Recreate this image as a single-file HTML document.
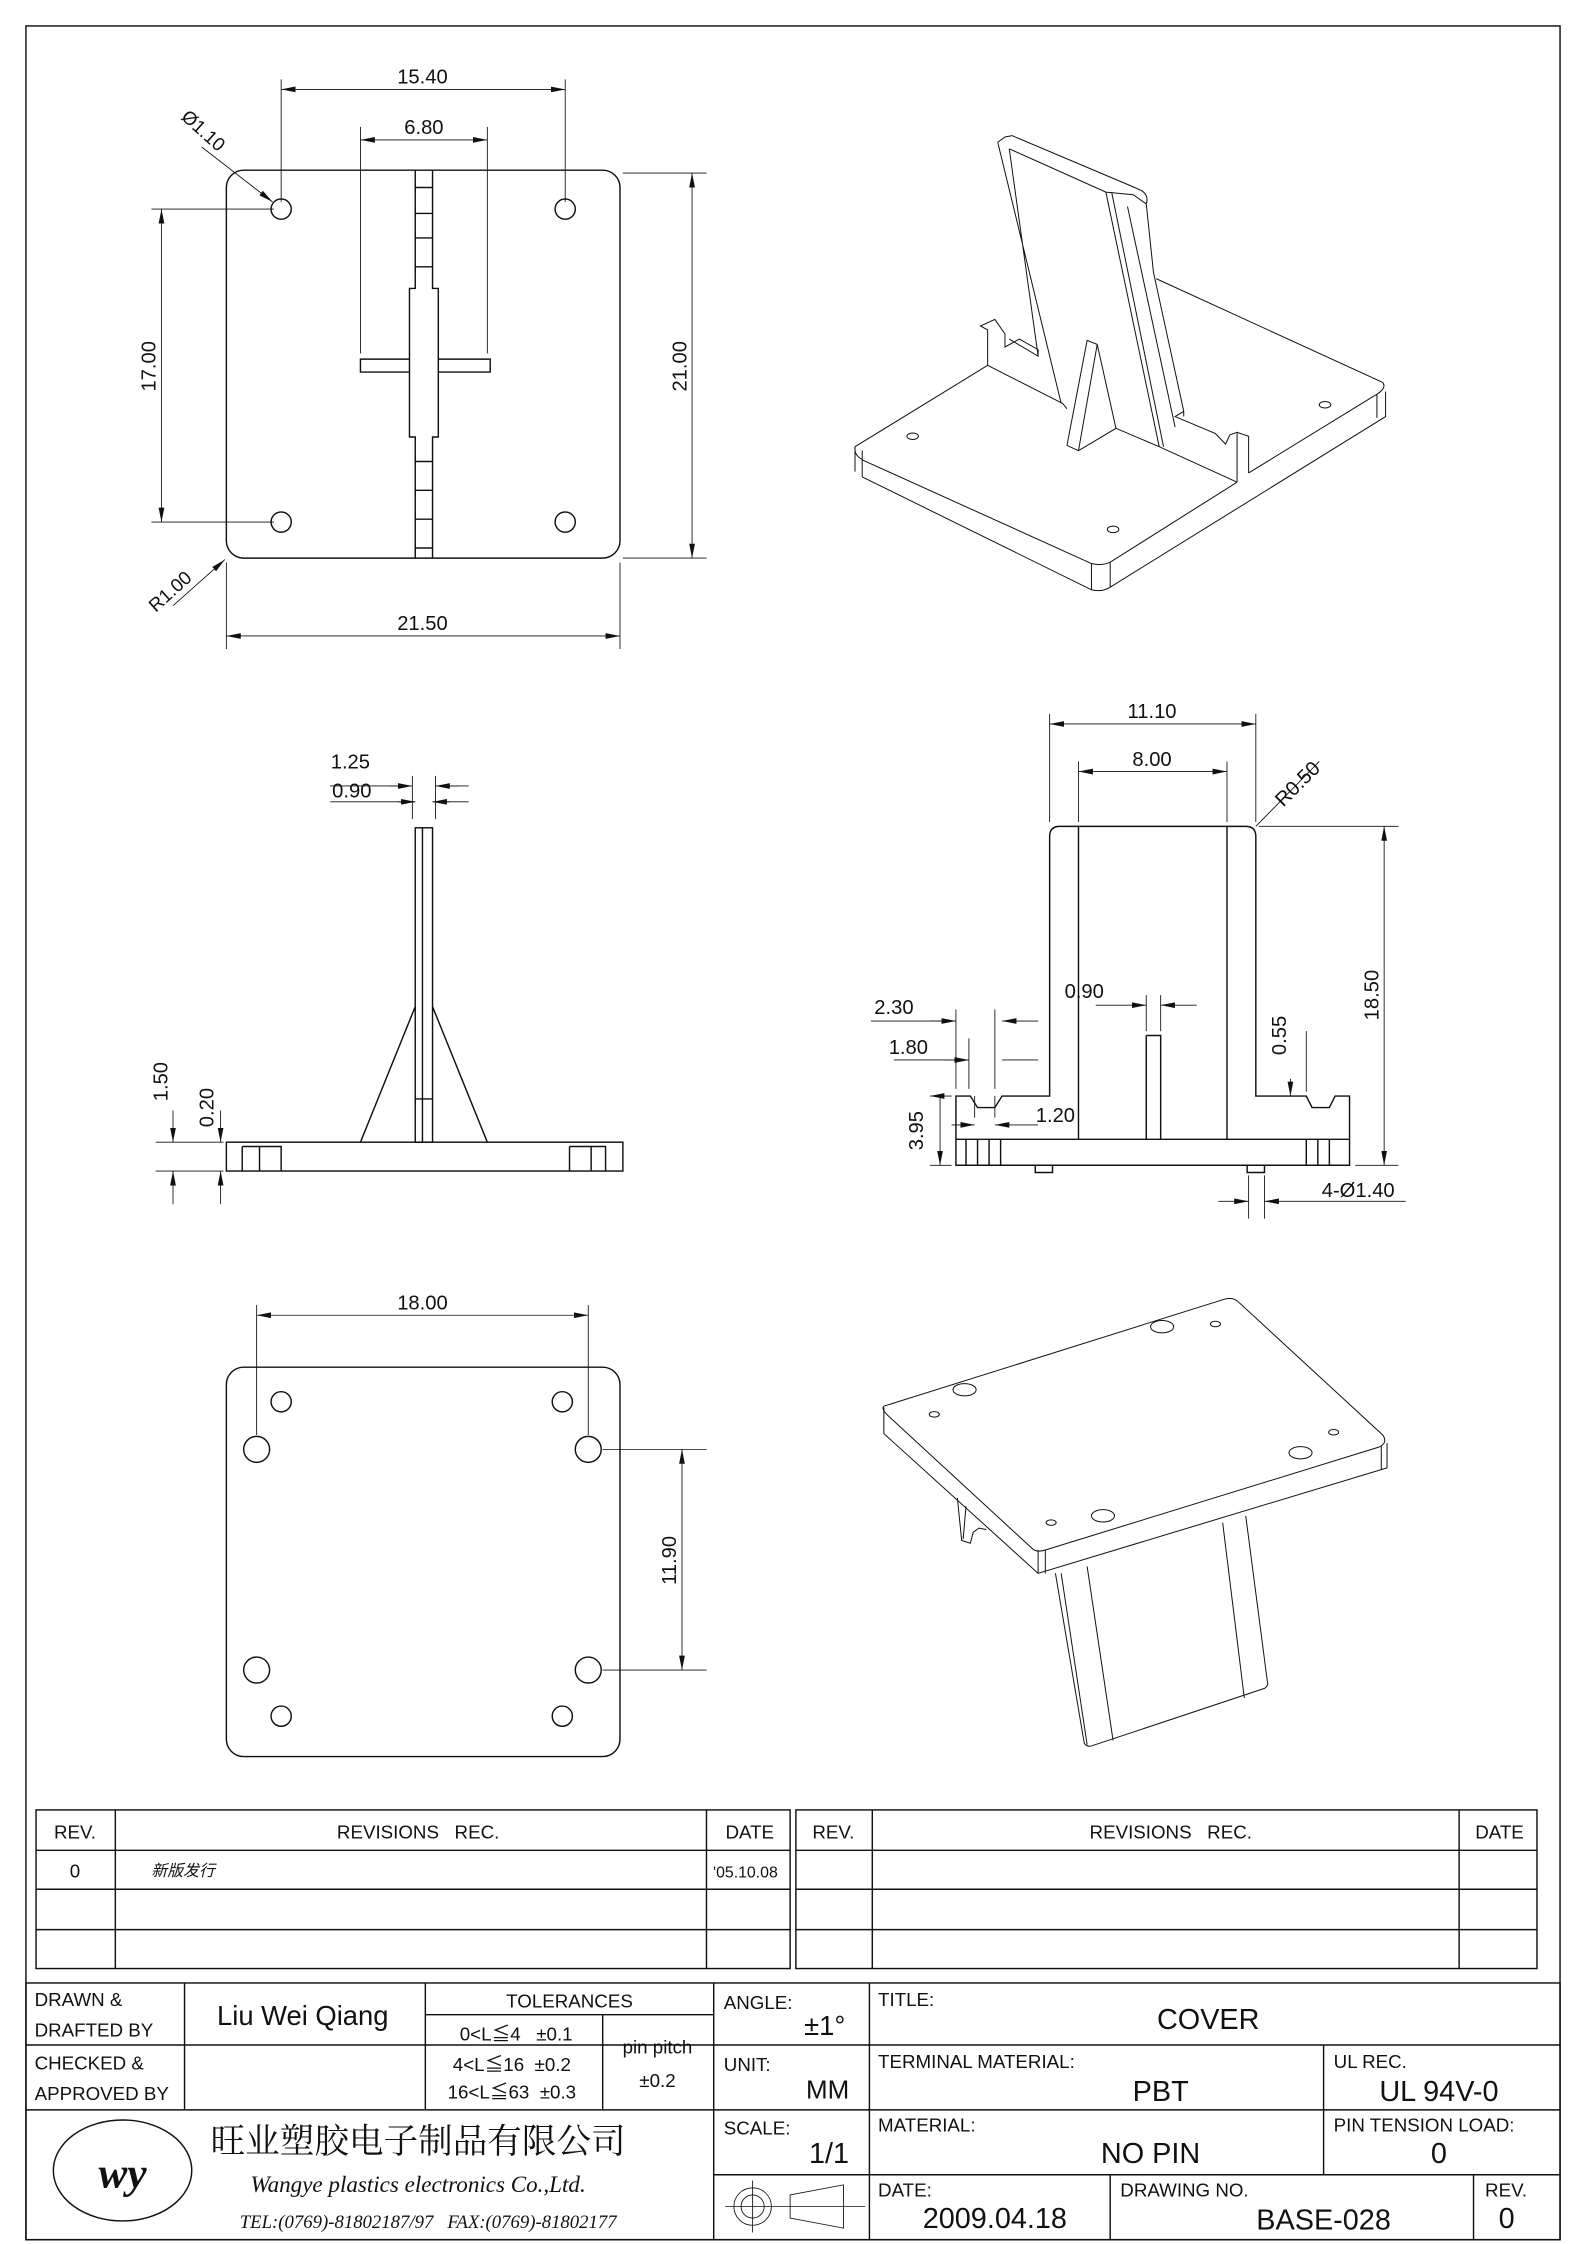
<!DOCTYPE html>
<html><head><meta charset="utf-8"><style>
html,body{margin:0;padding:0;background:#fff}
svg{display:block}
text{font-family:"Liberation Sans Narrow","Liberation Sans","Noto Sans CJK SC",sans-serif;fill:#111}
.l{stroke:#111;stroke-width:1;fill:none}
.t{stroke:#111;stroke-width:0.6;fill:none}
.n path,.n ellipse{vector-effect:non-scaling-stroke}
</style></head><body>
<svg width="1586" height="2244" viewBox="0 0 1100 1556" preserveAspectRatio="none" xmlns="http://www.w3.org/2000/svg">
<defs>
<marker id="ar" viewBox="0 0 10 4" refX="10" refY="2" markerWidth="10" markerHeight="4" markerUnits="userSpaceOnUse" orient="auto-start-reverse"><path d="M0,0L10,2L0,4z" fill="#111"/></marker>
</defs>
<rect x="18" y="18" width="1064" height="1535" class="l"/>

<!-- TOP VIEW -->
<rect x="157" y="118" width="273" height="269" rx="12" class="l"/>
<g class="l">
<circle cx="195" cy="145" r="7"/><circle cx="392" cy="145" r="7"/>
<circle cx="195" cy="362" r="7"/><circle cx="392" cy="362" r="7"/>
<path d="M288,118V200H284V303H288V387M300,118V200H304V303H300V387"/>
<path d="M288,130H300M288,148H300M288,165H300M288,185H300M288,320H300M288,340H300M288,360H300M288,380H300"/>
<path d="M284,249H250V258H284M304,249H340V258H304"/>
</g>
<g class="t">
<path d="M195,140V55M392,140V55M250,245V88M338,245V88M190,145H105M190,362H105M432,120H490M432,387H490M157,390V450M430,390V450"/>
<path d="M195,62H392" marker-start="url(#ar)" marker-end="url(#ar)"/>
<path d="M250,97H338" marker-start="url(#ar)" marker-end="url(#ar)"/>
<path d="M112,145V362" marker-start="url(#ar)" marker-end="url(#ar)"/>
<path d="M480,120V387" marker-start="url(#ar)" marker-end="url(#ar)"/>
<path d="M157,441H430" marker-start="url(#ar)" marker-end="url(#ar)"/>
<path d="M140,102L189,140" marker-end="url(#ar)"/>
<path d="M120,420L156,388" marker-end="url(#ar)"/>
</g>
<text x="293" y="58" font-size="14" text-anchor="middle">15.40</text>
<text x="294" y="93" font-size="14" text-anchor="middle">6.80</text>
<text transform="translate(108,254) rotate(-90)" font-size="14" text-anchor="middle">17.00</text>
<text transform="translate(476,254) rotate(-90)" font-size="14" text-anchor="middle">21.00</text>
<text x="293" y="437" font-size="14" text-anchor="middle">21.50</text>
<text transform="translate(125,82) rotate(42)" font-size="13">Ø1.10</text>
<text transform="translate(108,425) rotate(-42)" font-size="13">R1.00</text>

<!-- ISO TOP -->
<g class="l n" transform="translate(0,95) scale(1,0.91) translate(0,-97)">
<path d="M593,333L685,271M737,300L685,271M593,333Q592,340 600,344L757,422Q764,424 770,421L858,360M866,353L955,293Q962,288 959,284L802,205M593,333V352M598,336V356M598,356L757,442Q764,444 770,440L961,310V291M757,422V442M770,421V440M955,293V311"/>
<path d="M685,271V244L680,241L690,236L697,247V257L707,251L720,259V264L700,251"/>
<path d="M692,101L736,300M700,106L720,264M692,101L697,97L702,96L786,135L792,138Q797,142 795,148L800,200L821,306M700,106L767,139L786,141L795,148M767,139L804,333M771,139L807,333M782,150L815,318"/>
<path d="M821,306L815,310L843,323L850,331L853,324L858,322L858,360M821,306V310M858,322L866,325V353"/>
<path d="M774,319L804,333L858,360M737,300L740,304"/>
<path d="M740,332L754,252L761,255L774,319L748,336L740,332M748,336L761,255"/>
<ellipse cx="633" cy="325" rx="4" ry="2.5"/><ellipse cx="772" cy="396" rx="4" ry="2.5"/><ellipse cx="919" cy="301" rx="4" ry="2.5"/>
</g>

<!-- SIDE VIEW -->
<g class="l">
<rect x="157" y="792" width="275" height="20"/>
<rect x="288" y="574" width="12" height="218"/>
<path d="M293,574V792M288,762H300"/>
<path d="M250,792L288,698M338,792L300,698"/>
<path d="M168,795H195V812M168,795V812M180,795V812M395,795H420V812M395,795V812M410,795V812"/>
</g>
<g class="t">
<path d="M286,538V568M302,538V568M229,545H286M302,545H325" />
<path d="M229,556H288M300,556H325"/>
<path d="M270,545H286" marker-end="url(#ar)"/><path d="M318,545H302" marker-end="url(#ar)"/>
<path d="M276,556H288" marker-end="url(#ar)"/><path d="M312,556H300" marker-end="url(#ar)"/>
<path d="M108,792H155M108,812H155M120,770V792" marker-end="url(#ar)"/>
<path d="M120,835V812" marker-end="url(#ar)"/>
<path d="M153,770V792" marker-end="url(#ar)"/><path d="M153,835V812" marker-end="url(#ar)"/>
</g>
<text x="243" y="533" font-size="14" text-anchor="middle">1.25</text>
<text x="244" y="553" font-size="14" text-anchor="middle">0.90</text>
<text transform="translate(116,750) rotate(-90)" font-size="14" text-anchor="middle">1.50</text>
<text transform="translate(148,768) rotate(-90)" font-size="14" text-anchor="middle">0.20</text>

<!-- FRONT VIEW -->
<g class="l">
<path d="M663,808V760H673L678,768H690L695,760H728V580Q728,573 735,573H864Q871,573 871,580V760H906L910,768H922L926,760H936V808Z"/>
<path d="M663,790H936M748,573V790M851,573V790M795,718H805V790M795,718V790"/>
<path d="M670,790V808M678,790V808M686,790V808M694,790V808M906,790V808M914,790V808M922,790V808"/>
<path d="M718,808V813H730V808M865,808V813H877V808"/>
</g>
<g class="t">
<path d="M728,570V495M871,570V495M748,570V528M851,570V528"/>
<path d="M728,502H871" marker-start="url(#ar)" marker-end="url(#ar)"/>
<path d="M748,535H851" marker-start="url(#ar)" marker-end="url(#ar)"/>
<path d="M873,573H970M940,808H970"/>
<path d="M960,573V808" marker-start="url(#ar)" marker-end="url(#ar)"/>
<path d="M871,573L915,528"/>
<path d="M663,755V700M672,755V720M604,708H663" /><path d="M645,708H663" marker-end="url(#ar)"/>
<path d="M620,735H672" /><path d="M655,735H672" marker-end="url(#ar)"/>
<path d="M690,700V755M720,708H695" marker-end="url(#ar)"/><path d="M720,735H695"/>
<path d="M795,715V690M805,715V690M760,697H795" marker-end="url(#ar)"/><path d="M830,697H805" marker-end="url(#ar)"/>
<path d="M645,760H660M645,808H660M652,760V808" marker-start="url(#ar)" marker-end="url(#ar)"/>
<path d="M676,775V760M690,775V760M660,780H676" marker-end="url(#ar)"/><path d="M720,780H690" marker-end="url(#ar)"/>
<path d="M906,757V715M895,760H906"/><path d="M895,748V760" marker-end="url(#ar)"/>
<path d="M866,815V845M877,815V845M845,833H866" marker-end="url(#ar)"/><path d="M910,833H877" marker-end="url(#ar)"/><path d="M910,833H975"/>
</g>
<text x="799" y="498" font-size="14" text-anchor="middle">11.10</text>
<text x="799" y="531" font-size="14" text-anchor="middle">8.00</text>
<text transform="translate(890,560) rotate(-45)" font-size="14">R0.50</text>
<text transform="translate(956,690) rotate(-90)" font-size="14" text-anchor="middle">18.50</text>
<text x="620" y="703" font-size="14" text-anchor="middle">2.30</text>
<text x="630" y="731" font-size="14" text-anchor="middle">1.80</text>
<text x="752" y="692" font-size="14" text-anchor="middle">0.90</text>
<text transform="translate(892,718) rotate(-90)" font-size="14" text-anchor="middle">0.55</text>
<text transform="translate(640,784) rotate(-90)" font-size="14" text-anchor="middle">3.95</text>
<text x="732" y="778" font-size="14" text-anchor="middle">1.20</text>
<text x="942" y="830" font-size="14" text-anchor="middle">4-Ø1.40</text>

<!-- BOTTOM VIEW -->
<rect x="157" y="948" width="273" height="270" rx="12" class="l"/>
<g class="l">
<circle cx="195" cy="972" r="7"/><circle cx="390" cy="972" r="7"/><circle cx="195" cy="1190" r="7"/><circle cx="390" cy="1190" r="7"/>
<circle cx="178" cy="1005" r="9"/><circle cx="408" cy="1005" r="9"/><circle cx="178" cy="1158" r="9"/><circle cx="408" cy="1158" r="9"/>
</g>
<g class="t">
<path d="M178,995V905M408,995V905M418,1005H490M418,1158H490"/>
<path d="M178,912H408" marker-start="url(#ar)" marker-end="url(#ar)"/>
<path d="M473,1005V1158" marker-start="url(#ar)" marker-end="url(#ar)"/>
</g>
<text x="293" y="908" font-size="14" text-anchor="middle">18.00</text>
<text transform="translate(469,1082) rotate(-90)" font-size="14" text-anchor="middle">11.90</text>

<!-- ISO BOTTOM -->
<g class="l n" transform="translate(0,900) scale(1,0.95) translate(0,-900)">
<path d="M613,979L849,901Q855,899 859,903L959,1000Q963,1006 956,1009L725,1084Q719,1086 716,1083L616,986Q611,981 613,979Z"/>
<path d="M613,980V999L720,1101L962,1024V1006M720,1084V1101M725,1084V1101M958,1008V1025"/>
<path d="M664,1046L667,1077L673,1079L675,1071L679,1068L684,1069M670,1052L668,1076"/>
<path d="M732,1101L752,1225Q754,1228 757,1227L877,1185Q880,1183 879,1180L864,1059M754,1096L772,1223M736,1101L754,1226M848,1064L863,1192"/>
<ellipse cx="669" cy="967" rx="8" ry="4.5"/><ellipse cx="806" cy="921" rx="8" ry="4.5"/><ellipse cx="902" cy="1013" rx="8" ry="4.5"/><ellipse cx="765" cy="1059" rx="8" ry="4.5"/>
<ellipse cx="648" cy="985" rx="3.5" ry="2"/><ellipse cx="843" cy="919" rx="3.5" ry="2"/><ellipse cx="925" cy="998" rx="3.5" ry="2"/><ellipse cx="729" cy="1064" rx="3.5" ry="2"/>
</g>

<!-- REVISION TABLE -->
<g class="l">
<rect x="25" y="1255" width="523" height="110"/><rect x="552" y="1255" width="514" height="110"/>
<path d="M25,1283H548M25,1310H548M25,1338H548M80,1255V1365M490,1255V1365"/>
<path d="M552,1283H1066M552,1310H1066M552,1338H1066M605,1255V1365M1012,1255V1365"/>
</g>
<g font-size="13" text-anchor="middle">
<text x="52" y="1275">REV.</text><text x="290" y="1275">REVISIONS&#160;&#160;&#160;REC.</text><text x="520" y="1275">DATE</text>
<text x="578" y="1275">REV.</text><text x="812" y="1275">REVISIONS&#160;&#160;&#160;REC.</text><text x="1040" y="1275">DATE</text>
<text x="52" y="1302">0</text><text x="517" y="1302" font-size="11">'05.10.08</text>
</g>
<text x="105" y="1301" font-size="11" font-style="italic">新版发行</text>

<!-- TITLE BLOCK -->
<g class="l">
<rect x="18" y="1375" width="1064" height="178"/>
<path d="M18,1418H495M18,1463H1082M128,1375V1463M295,1375V1463M295,1397H495M418,1397V1463M495,1375V1553"/>
<path d="M495,1418H1082M603,1375V1553M918,1418V1508M495,1508H1082M770,1508V1553M1022,1508V1553"/>
</g>
<g font-size="13">
<text x="24" y="1391">DRAWN &amp;</text><text x="24" y="1412">DRAFTED BY</text>
<text x="24" y="1435">CHECKED &amp;</text><text x="24" y="1456">APPROVED BY</text>
<text x="210" y="1404" font-size="19" text-anchor="middle">Liu  Wei  Qiang</text>
<text x="395" y="1392" text-anchor="middle">TOLERANCES</text>
<text x="358" y="1415" text-anchor="middle">0&lt;L≦4&#160;&#160;&#160;±0.1</text>
<text x="355" y="1436" text-anchor="middle">4&lt;L≦16&#160;&#160;±0.2</text>
<text x="355" y="1455" text-anchor="middle">16&lt;L≦63&#160;&#160;±0.3</text>
<text x="456" y="1424" text-anchor="middle">pin pitch</text><text x="456" y="1447" text-anchor="middle">±0.2</text>
<text x="502" y="1393">ANGLE:</text><text x="572" y="1411" font-size="19" text-anchor="middle">±1°</text>
<text x="502" y="1436">UNIT:</text><text x="574" y="1455" font-size="18" text-anchor="middle">MM</text>
<text x="502" y="1480">SCALE:</text><text x="575" y="1500" font-size="20" text-anchor="middle">1/1</text>
<text x="609" y="1391">TITLE:</text><text x="838" y="1407" font-size="20" text-anchor="middle">COVER</text>
<text x="609" y="1434">TERMINAL  MATERIAL:</text><text x="805" y="1457" font-size="20" text-anchor="middle">PBT</text>
<text x="925" y="1434">UL  REC.</text><text x="998" y="1457" font-size="20" text-anchor="middle">UL  94V-0</text>
<text x="609" y="1478">MATERIAL:</text><text x="798" y="1500" font-size="20" text-anchor="middle">NO   PIN</text>
<text x="925" y="1478">PIN  TENSION  LOAD:</text><text x="998" y="1500" font-size="20" text-anchor="middle">0</text>
<text x="609" y="1523">DATE:</text><text x="690" y="1545" font-size="20" text-anchor="middle">2009.04.18</text>
<text x="777" y="1523">DRAWING  NO.</text><text x="918" y="1546" font-size="20" text-anchor="middle">BASE-028</text>
<text x="1030" y="1523">REV.</text><text x="1045" y="1545" font-size="20" text-anchor="middle">0</text>
</g>
<text x="290" y="1493" font-size="24" text-anchor="middle" style="font-family:'Noto Serif CJK SC','Noto Sans CJK SC',serif">旺业塑胶电子制品有限公司</text>
<text x="290" y="1520" font-size="16" font-style="italic" text-anchor="middle" style="font-family:'Liberation Serif',serif">Wangye plastics electronics Co.,Ltd.</text>
<text x="297" y="1545" font-size="13" font-style="italic" text-anchor="middle" style="font-family:'Liberation Serif',serif">TEL:(0769)-81802187/97&#160;&#160;&#160;FAX:(0769)-81802177</text>
<ellipse cx="85" cy="1505" rx="48" ry="35" class="l" stroke-width="1.5"/>
<text x="85" y="1517" font-size="30" font-style="italic" font-weight="bold" text-anchor="middle" style="font-family:'Liberation Serif',serif">wy</text>
<g class="t">
<circle cx="522" cy="1530" r="13"/><circle cx="522" cy="1530" r="8"/><path d="M503,1530H600M522,1512V1548"/>
<path d="M548,1522L585,1515V1545L548,1538Z"/>
</g>
</svg>
</body></html>
